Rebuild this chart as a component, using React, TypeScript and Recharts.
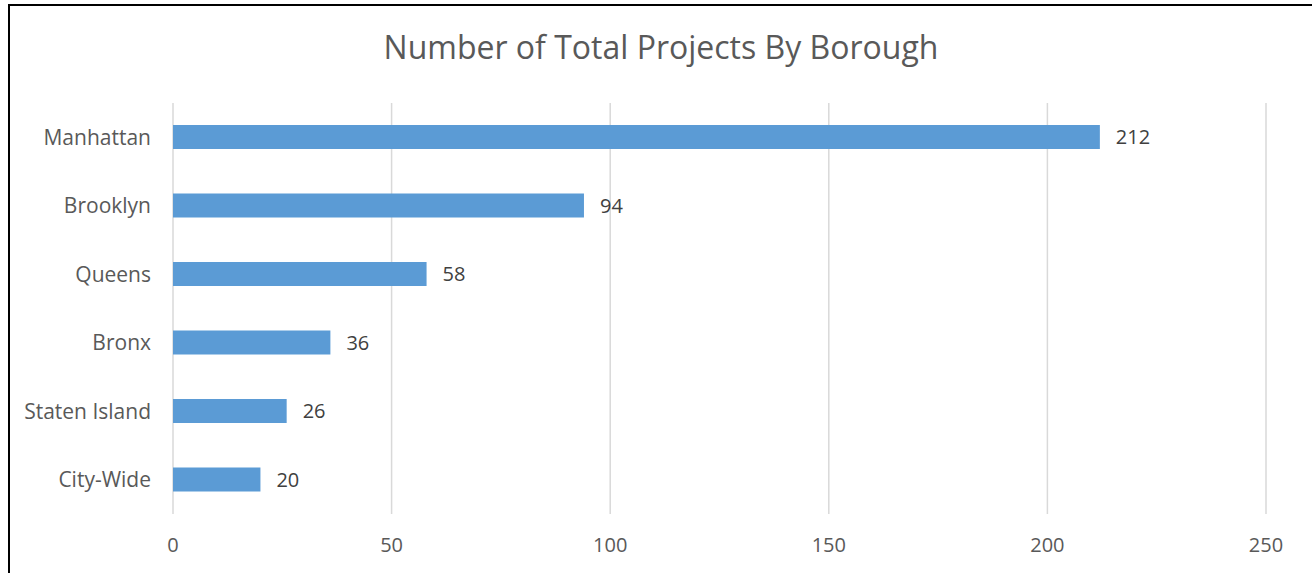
import { BarChart, Bar, XAxis, YAxis, CartesianGrid, LabelList } from 'recharts'

const boroughs = ['Manhattan', 'Brooklyn', 'Queens', 'Bronx', 'Staten Island', 'City-Wide']
const projects = [212, 94, 58, 36, 26, 20]
const xTicks = [0, 50, 100, 150, 200, 250]

const data = boroughs.map((name, i) => ({ name, projects: projects[i] }))

const font = '"Open Sans", sans-serif'

export default function App() {
  return (
    <div
      style={{
        position: 'absolute',
        left: 8,
        top: 4,
        width: 1310,
        height: 575,
        borderTop: '2px solid #000',
        borderLeft: '2px solid #000',
        fontFamily: font,
      }}
    >
      <div
        style={{
          position: 'absolute',
          left: 0,
          top: 21,
          width: 1302,
          textAlign: 'center',
          fontSize: 32,
          color: '#595959',
          lineHeight: '40px',
        }}
      >
        Number of Total Projects By Borough
      </div>
      <BarChart
        width={1302}
        height={569}
        data={data}
        layout="vertical"
        margin={{ top: 97, right: 46, bottom: 31, left: 0 }}
      >
        <CartesianGrid horizontal={false} stroke="#d9d9d9" strokeWidth={1.5} />
        <XAxis
          type="number"
          domain={[0, 250]}
          ticks={xTicks}
          axisLine={false}
          tickLine={false}
          tickMargin={18}
          tick={{ fill: '#595959', fontSize: 20, fontFamily: font }}
        />
        <YAxis
          type="category"
          dataKey="name"
          width={163}
          axisLine={false}
          tickLine={false}
          tickMargin={16}
          tick={{ fill: '#595959', fontSize: 21, fontFamily: font }}
        />
        <Bar dataKey="projects" fill="#5b9bd5" barSize={24} isAnimationActive={false}>
          <LabelList
            dataKey="projects"
            position="right"
            offset={16}
            fill="#404040"
            fontSize={20}
            fontFamily={font}
          />
        </Bar>
      </BarChart>
    </div>
  )
}
